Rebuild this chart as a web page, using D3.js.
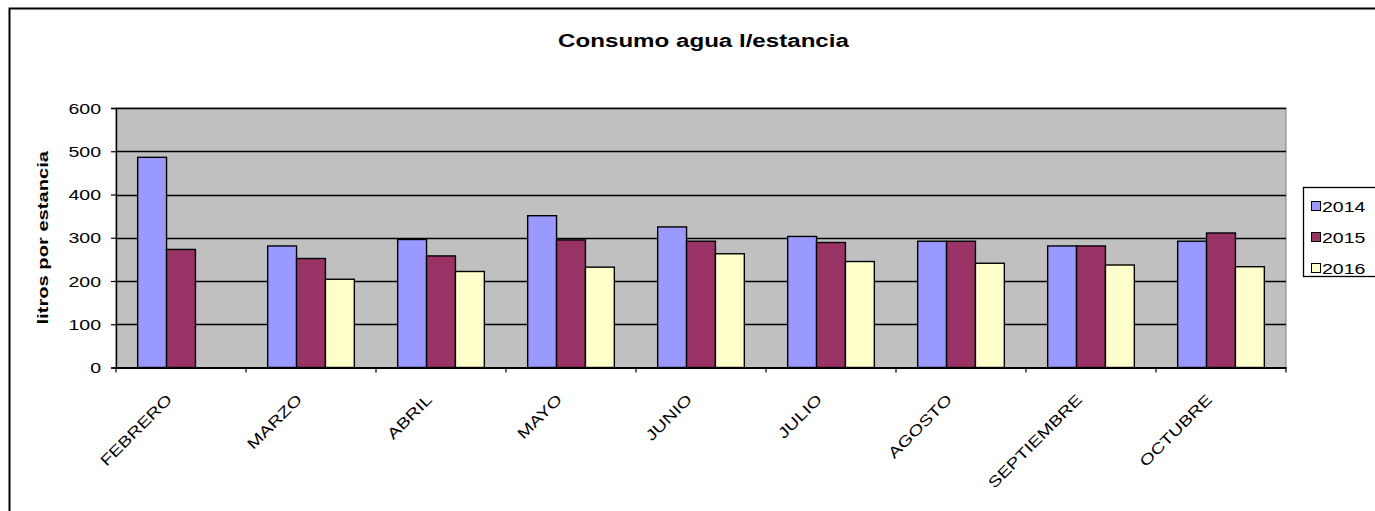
<!DOCTYPE html>
<html>
<head>
<meta charset="utf-8">
<script src="https://cdn.jsdelivr.net/npm/d3@7"></script>
<style>
  body { margin: 0; background: #fff; }
  svg { display: block; font-family: "Liberation Sans", Arial, sans-serif; }
</style>
</head>
<body>
<svg id="chart" width="1375" height="511"></svg>
<script>
// data
const months = ['FEBRERO', 'MARZO', 'ABRIL', 'MAYO', 'JUNIO', 'JULIO', 'AGOSTO', 'SEPTIEMBRE', 'OCTUBRE'];
const years = ['2014', '2015', '2016'];
const v2014 = [486, 281, 296, 351, 325, 303, 292, 281, 292];
const v2015 = [273, 252, 258, 295, 292, 289, 292, 281, 311];
const v2016 = [null, 204, 222, 232, 263, 245, 241, 237, 233];
const yTicks = [0, 100, 200, 300, 400, 500, 600];

const colors = ['#9999ff', '#993366', '#ffffcc'];
const series = [v2014, v2015, v2016];

// the excel text looks horizontally stretched
const SX = 1.3;

const svg = d3.select('#chart');

// chart area border (only top/left visible)
svg.append('rect')
  .attr('x', 9.5).attr('y', 8.5)
  .attr('width', 1400).attr('height', 600)
  .attr('fill', 'none')
  .attr('stroke', '#000')
  .attr('stroke-width', 2);

const plot = { left: 116, right: 1286, top: 108, bottom: 367.5 };

const x0 = d3.scaleBand()
  .domain(months)
  .range([plot.left, plot.right]);

// gap width 150%
const x1 = d3.scaleBand()
  .domain(years)
  .range([0, x0.bandwidth()])
  .paddingOuter(0.75)
  .paddingInner(0);

const y = d3.scaleLinear()
  .domain([0, 600])
  .range([plot.bottom, plot.top]);

// plot background
svg.append('rect')
  .attr('x', plot.left).attr('y', plot.top)
  .attr('width', plot.right - plot.left)
  .attr('height', plot.bottom - plot.top)
  .attr('fill', '#c0c0c0')
  .attr('stroke', '#808080')
  .attr('stroke-width', 1);

// gridlines
svg.append('g')
  .selectAll('line')
  .data(yTicks.filter(d => d > 0))
  .join('line')
  .attr('x1', plot.left).attr('x2', plot.right)
  .attr('y1', d => Math.round(y(d)) + 0.5)
  .attr('y2', d => Math.round(y(d)) + 0.5)
  .attr('stroke', '#000')
  .attr('stroke-width', 1.4);

// bars
const groups = svg.append('g')
  .selectAll('g')
  .data(months)
  .join('g')
  .attr('transform', d => `translate(${x0(d)},0)`);

groups.selectAll('rect')
  .data((m, i) => years.map((yr, j) => ({ yr: yr, v: series[j][i], c: colors[j] })).filter(d => d.v != null))
  .join('rect')
  .attr('x', d => x1(d.yr))
  .attr('width', x1.bandwidth())
  .attr('y', d => y(d.v))
  .attr('height', d => y(0) - y(d.v))
  .attr('fill', d => d.c)
  .attr('stroke', '#000')
  .attr('stroke-width', 1.4);

// y axis
const yAxis = d3.axisLeft(y)
  .tickValues(yTicks)
  .tickSize(5)
  .tickFormat('');

const yg = svg.append('g')
  .attr('transform', `translate(${plot.left},0)`)
  .call(yAxis);
yg.select('.domain').attr('stroke', '#000').attr('stroke-width', 1.4);
yg.selectAll('.tick line').attr('stroke', '#000').attr('stroke-width', 1.2);

svg.append('g')
  .selectAll('text')
  .data(yTicks)
  .join('text')
  .attr('transform', d => `translate(101,${y(d) + 5.5}) scale(${SX},1)`)
  .attr('text-anchor', 'end')
  .attr('font-size', 15)
  .text(d => d);

// x axis
const xg = svg.append('g')
  .attr('transform', `translate(0,${plot.bottom})`)
  .call(d3.axisBottom(x0).tickSize(0).tickFormat(''));
xg.select('.domain').attr('stroke', '#000').attr('stroke-width', 2);

// category separator ticks
svg.append('g')
  .selectAll('line')
  .data(d3.range(months.length + 1))
  .join('line')
  .attr('x1', i => plot.left + i * x0.step())
  .attr('x2', i => plot.left + i * x0.step())
  .attr('y1', plot.bottom)
  .attr('y2', plot.bottom + 5)
  .attr('stroke', '#000')
  .attr('stroke-width', 1.2);

// rotated month labels
svg.append('g')
  .selectAll('text')
  .data(months)
  .join('text')
  .attr('transform', d => `translate(${x0(d) + x0.bandwidth() / 2 - 8},${plot.bottom + 33}) rotate(-45) scale(${SX},1)`)
  .attr('text-anchor', 'end')
  .attr('font-size', 15)
  .attr('fill', '#000')
  .text(d => d);

// title
svg.append('text')
  .attr('transform', 'translate(703.5,46.5) scale(1.27,1)')
  .attr('text-anchor', 'middle')
  .attr('font-size', 19)
  .attr('font-weight', 'bold')
  .text('Consumo agua l/estancia');

// y axis title
svg.append('text')
  .attr('transform', `translate(48,${(plot.top + plot.bottom) / 2}) rotate(-90) scale(${SX},1)`)
  .attr('text-anchor', 'middle')
  .attr('font-size', 15.5)
  .attr('font-weight', 'bold')
  .text('litros por estancia');

// legend
const legend = svg.append('g');
legend.append('rect')
  .attr('x', 1303.5).attr('y', 187.5)
  .attr('width', 100).attr('height', 89)
  .attr('fill', '#fff')
  .attr('stroke', '#000')
  .attr('stroke-width', 1.3);

const items = legend.selectAll('g')
  .data(years)
  .join('g')
  .attr('transform', (d, i) => `translate(1311,${206 + i * 31})`);

items.append('rect')
  .attr('x', 0.5).attr('y', -4.5)
  .attr('width', 9).attr('height', 9)
  .attr('fill', (d, i) => colors[i])
  .attr('stroke', '#000');

items.append('text')
  .attr('transform', `translate(11,5.5) scale(${SX},1)`)
  .attr('font-size', 15)
  .text(d => d);
</script>
</body>
</html>
